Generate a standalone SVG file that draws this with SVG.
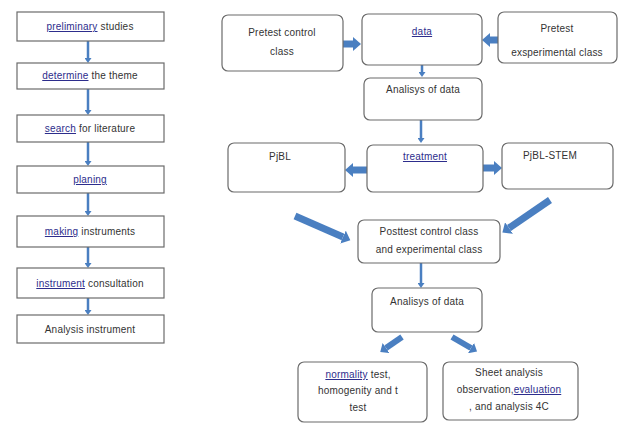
<svg xmlns="http://www.w3.org/2000/svg" width="621" height="434" viewBox="0 0 621 434">
<style>
.bx{fill:#fff;stroke:#6b6b6b;stroke-width:1.2}
.t{font-family:"Liberation Sans",Arial,sans-serif;font-size:10px;letter-spacing:0.2px;fill:#333;text-anchor:middle}
.u{fill:#2d2d8c;text-decoration:underline}
.as{stroke:#4a7fc1;stroke-width:2.5;fill:none;marker-end:url(#hs)}
.ab{stroke:#4a7fc1;stroke-width:7;fill:none;marker-end:url(#hb)}
.am{stroke:#4a7fc1;stroke-width:6;fill:none;marker-end:url(#hm)}
</style>
<defs>
<marker id="hs" markerUnits="userSpaceOnUse" markerWidth="6" markerHeight="7" refX="0" refY="3.5" orient="auto"><path d="M0,0 L5,3.5 L0,7 Z" fill="#4a7fc1"/></marker>
<marker id="hb" markerUnits="userSpaceOnUse" markerWidth="9" markerHeight="14" refX="0" refY="7" orient="auto"><path d="M0,0 L8,7 L0,14 Z" fill="#4a7fc1"/></marker>
<marker id="hm" markerUnits="userSpaceOnUse" markerWidth="8" markerHeight="12" refX="0" refY="6" orient="auto"><path d="M0,0 L7,6 L0,12 Z" fill="#4a7fc1"/></marker>
</defs>
<rect width="621" height="434" fill="#fff"/>

<g id="connectors">
<line class="as" x1="88" y1="41" x2="88" y2="58"/>
<line class="as" x1="88" y1="89" x2="88" y2="110"/>
<line class="as" x1="88" y1="142" x2="88" y2="161"/>
<line class="as" x1="88" y1="193" x2="88" y2="211"/>
<line class="as" x1="88" y1="247" x2="88" y2="263"/>
<line class="as" x1="88" y1="298" x2="88" y2="310"/>
<line class="ab" x1="339" y1="44" x2="353" y2="44"/>
<line class="ab" x1="499" y1="40" x2="490" y2="40"/>
<line class="as" x1="422" y1="65" x2="422" y2="72"/>
<line class="as" x1="421" y1="119" x2="421" y2="138"/>
<line class="ab" x1="367" y1="170" x2="353" y2="170"/>
<line class="ab" x1="483" y1="168" x2="494" y2="168"/>
<line class="ab" x1="295" y1="216" x2="343" y2="237"/>
<line class="ab" x1="550" y1="200" x2="509" y2="228"/>
<line class="as" x1="421" y1="263" x2="421" y2="283"/>
<line class="am" x1="402" y1="337" x2="386" y2="348"/>
<line class="am" x1="452" y1="337" x2="471" y2="348"/>
</g>

<g id="n1"><rect class="bx" x="17" y="12" width="147" height="29"/><text class="t" x="90" y="30"><tspan class="u">preliminary</tspan> studies</text></g>
<g id="n2"><rect class="bx" x="17" y="63" width="147" height="26"/><text class="t" x="90" y="79"><tspan class="u">determine</tspan> the theme</text></g>
<g id="n3"><rect class="bx" x="17" y="115" width="147" height="27"/><text class="t" x="90" y="132"><tspan class="u">search</tspan> for literature</text></g>
<g id="n4"><rect class="bx" x="17" y="166" width="147" height="27"/><text class="t" x="90" y="183"><tspan class="u">planing</tspan></text></g>
<g id="n5"><rect class="bx" x="17" y="216" width="147" height="31"/><text class="t" x="90" y="235"><tspan class="u">making</tspan> instruments</text></g>
<g id="n6"><rect class="bx" x="17" y="268" width="147" height="30"/><text class="t" x="90" y="287"><tspan class="u">instrument</tspan> consultation</text></g>
<g id="n7"><rect class="bx" x="17" y="315" width="147" height="28"/><text class="t" x="90" y="333">Analysis instrument</text></g>

<g id="pcc"><rect class="bx" x="222" y="15" width="121" height="56" rx="6"/><text class="t" x="282" y="36">Pretest control</text><text class="t" x="282" y="55">class</text></g>
<g id="data"><rect class="bx" x="362" y="14" width="120" height="51" rx="6"/><text class="t" x="422" y="35"><tspan class="u">data</tspan></text></g>
<g id="pec"><rect class="bx" x="498" y="12" width="119" height="51" rx="6"/><text class="t" x="557" y="32">Pretest</text><text class="t" x="557" y="56">exsperimental class</text></g>
<g id="ana1"><rect class="bx" x="364" y="78" width="118" height="42" rx="6"/><text class="t" x="423" y="93">Analisys of data</text></g>
<g id="pjbl"><rect class="bx" x="228" y="143" width="117" height="49" rx="6"/><text class="t" x="280" y="160">PjBL</text></g>
<g id="treat"><rect class="bx" x="367" y="145" width="116" height="47" rx="6"/><text class="t" x="425" y="160"><tspan class="u">treatment</tspan></text></g>
<g id="pjstem"><rect class="bx" x="502" y="143" width="111" height="46" rx="6"/><text class="t" x="550" y="159">PjBL-STEM</text></g>
<g id="post"><rect class="bx" x="358" y="220" width="142" height="43" rx="6"/><text class="t" x="429" y="235">Posttest control class</text><text class="t" x="429" y="253">and experimental class</text></g>
<g id="ana2"><rect class="bx" x="372" y="288" width="110" height="44" rx="6"/><text class="t" x="427" y="305">Analisys of data</text></g>
<g id="norm"><rect class="bx" x="298" y="362" width="129" height="60" rx="6"/><text class="t" x="358" y="378"><tspan class="u">normality</tspan> test,</text><text class="t" x="358" y="394">homogenity and t</text><text class="t" x="358" y="411">test</text></g>
<g id="sheet"><rect class="bx" x="443" y="362" width="135" height="58" rx="6"/><text class="t" x="509" y="376">Sheet analysis</text><text class="t" x="509" y="393">observation,<tspan class="u">evaluation</tspan></text><text class="t" x="509" y="410">, and analysis 4C</text></g>
</svg>
